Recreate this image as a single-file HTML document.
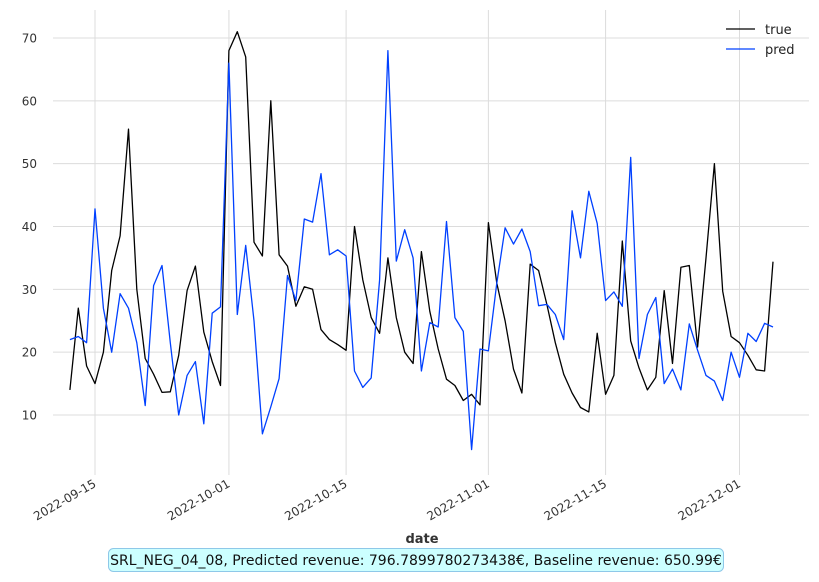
<!DOCTYPE html>
<html><head><meta charset="utf-8"><style>
body{margin:0;background:#fff;width:819px;height:577px;overflow:hidden;font-family:"Liberation Sans","DejaVu Sans",sans-serif}
svg text{font-family:"DejaVu Sans","Liberation Sans",sans-serif}
</style></head><body>
<svg id="chart" width="819" height="577" viewBox="0 0 819 577">
<g id="grid"></g>
<g id="yticks"></g>
<g id="xticks"></g>
<g id="lines"></g>
<text x="422" y="543" text-anchor="middle" font-size="13" font-weight="bold" fill="#333">date</text>
<g>
<g><line x1="726" y1="29" x2="755" y2="29" stroke="#000" stroke-width="1.3"/><text x="765" y="34" font-size="13" fill="#222">true</text></g>
<g><line x1="726" y1="49" x2="755" y2="49" stroke="#0040ff" stroke-width="1.3"/><text x="765" y="54" font-size="13" fill="#222">pred</text></g>
</g>
<g>
<rect x="108.5" y="548.5" width="615" height="23" rx="5" fill="#ccffff" stroke="#8ec8e8" stroke-width="1"/>
<text x="416" y="565" text-anchor="middle" font-size="14" fill="#111">SRL_NEG_04_08, Predicted revenue: 796.7899780273438€, Baseline revenue: 650.99€</text>
</g>
</svg>
<script>
const startDate = "2022-09-12";
const trueValues = [14,27,17.8,15,20,33,38.5,55.5,30,19,16.5,13.6,13.7,19.5,29.8,33.7,23.2,18.5,14.7,68,71,67,37.5,35.3,60,35.5,33.7,27.3,30.4,30,23.6,22,21.2,20.3,40,31.5,25.5,23,35,25.5,20,18.2,36,26.5,20.5,15.7,14.7,12.3,13.3,11.6,40.6,31,25,17.3,13.5,34,33,27.5,21.5,16.5,13.5,11.2,10.5,23,13.3,16.3,37.7,21.8,17.5,14,16,29.8,18.2,33.5,33.8,20.8,35,50,29.7,22.5,21.5,19.5,17.2,17,34.4];
const predValues = [22,22.5,21.5,42.8,27,20,29.3,27,21.5,11.5,30.6,33.8,21.5,10,16.3,18.5,8.6,26.2,27.2,66,26,37,25,7,11.3,15.8,32.2,28.2,41.2,40.7,48.4,35.5,36.3,35.3,17,14.4,15.9,31.5,68,34.5,39.5,35,17,24.7,24,40.8,25.5,23.3,4.5,20.5,20.2,31,39.8,37.2,39.6,36,27.4,27.6,26,22,42.5,35,45.6,40.5,28.2,29.6,27.3,51,19,26,28.7,15,17.3,14,24.5,20.3,16.3,15.4,12.3,20,16,23,21.7,24.6,24];
const yTicks = [10,20,30,40,50,60,70];
const xTickLabels = ["2022-09-15","2022-10-01","2022-10-15","2022-11-01","2022-11-15","2022-12-01"];

const NS="http://www.w3.org/2000/svg";
const day=86400000, t0=Date.parse(startDate+"T00:00:00Z");
const px0=95, pxPerDay=8.37, ref=Date.parse("2022-09-15T00:00:00Z");
function xs(t){return px0+(t-ref)/day*pxPerDay;}
function ys(v){return 415-(v-10)*6.283;}
function mk(tag,attrs,parent){const e=document.createElementNS(NS,tag);for(const k in attrs)e.setAttribute(k,attrs[k]);parent.appendChild(e);return e;}
const grid=document.getElementById('grid'),yg=document.getElementById('yticks'),xg=document.getElementById('xticks'),lg=document.getElementById('lines');
yTicks.forEach(v=>{
  const l=mk('line',{x1:53,x2:809,y1:ys(v),y2:ys(v),stroke:'#dcdcdc','stroke-width':1},grid);
  
  
  const t=mk('text',{x:37,y:ys(v)+4.5,'text-anchor':'end','font-size':12,fill:'#333'},yg);
  t.textContent=v;
  
  
});
xTickLabels.forEach(s=>{
  const x=xs(Date.parse(s+"T00:00:00Z"));
  const l=mk('line',{x1:x,x2:x,y1:10,y2:475,stroke:'#dcdcdc','stroke-width':1},grid);
  
  
  const t=mk('text',{x:x+2,y:486,'text-anchor':'end','font-size':12,fill:'#333',transform:`rotate(-30 ${x+2} 486)`},xg);
  t.textContent=s;
  
  
});
function path(vals,color,name){
  const d=vals.map((v,i)=>(i?'L':'M')+xs(t0+i*day).toFixed(1)+','+ys(v).toFixed(1)).join('');
  const p=mk('path',{d:d,fill:'none',stroke:color,'stroke-width':1.3,'stroke-linejoin':'round'},lg);
  
  
}
path(trueValues,'#000','true-line');
path(predValues,'#0040ff','pred-line');
</script>
</body></html>
